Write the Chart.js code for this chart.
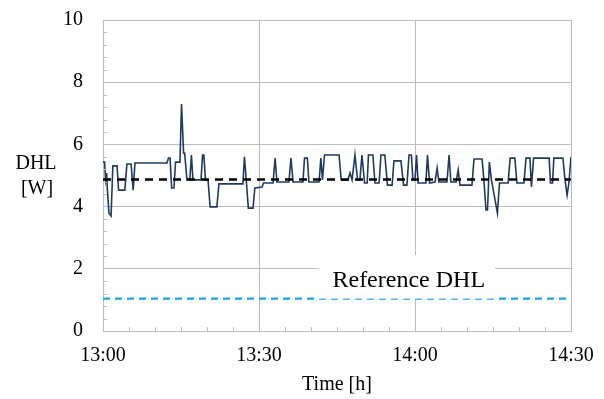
<!DOCTYPE html>
<html><head><meta charset="utf-8">
<script src="https://cdn.jsdelivr.net/npm/chart.js@4/dist/chart.umd.min.js"></script>
<style>html,body{margin:0;padding:0;background:#fff}#wrap{width:604px;height:399px}</style>
</head><body><div id="wrap"><canvas id="c" width="604" height="399"></canvas></div>
<script>
// minutes after 13:00
const times = [0,0.3,0.5,0.7,0.85,1.15,1.55,1.9,2.7,3.0,4.2,4.6,5.4,5.8,6.15,12.3,12.6,12.9,13.2,13.65,13.95,14.8,15.1,15.5,15.7,16.15,16.7,17.0,17.3,18.85,19.15,19.4,19.7,20.2,20.6,21.9,22.3,26.9,27.2,27.6,27.95,28.85,29.2,30.6,30.85,32.7,33.1,33.45,35.75,36.15,36.55,38.45,38.75,39.3,39.6,41.55,41.9,42.2,42.6,45.4,45.8,47.1,47.5,47.9,48.45,48.95,49.4,49.8,50.3,50.8,51.05,51.9,52.3,53.1,53.45,54.2,54.7,55.6,55.95,57.3,57.8,58.45,58.85,59.3,59.6,60.0,60.3,60.6,62.1,62.4,62.8,63.85,64.25,64.6,66.15,66.55,66.9,67.9,68.3,68.65,70.95,71.35,72.9,73.25,73.65,73.95,74.3,74.7,75.85,76.25,77.9,78.3,79.2,79.6,80.95,81.35,82.1,82.4,82.8,85.8,86.05,86.45,86.7,88.45,88.85,89.25,89.6,90.0];
const dhl = [5.43,5.43,4.86,5.08,4.53,3.79,3.70,5.31,5.31,4.53,4.53,5.37,5.37,4.53,5.40,5.40,5.56,5.56,4.60,4.60,5.43,5.43,7.30,5.72,5.72,4.86,4.86,5.66,4.86,4.86,5.66,5.66,4.86,4.86,3.99,3.99,4.73,4.73,5.60,4.73,3.95,3.95,4.60,4.63,4.76,4.76,5.56,4.79,4.79,5.56,4.79,4.79,5.56,5.56,4.79,4.79,5.56,4.86,5.66,5.66,4.86,4.86,5.08,4.86,5.66,4.86,4.86,5.66,4.76,4.76,5.66,5.66,4.76,4.76,5.66,5.66,4.69,4.69,5.47,5.47,4.69,4.69,5.66,5.66,4.86,4.86,5.66,4.76,4.76,5.66,4.76,4.79,5.24,4.79,4.79,5.66,4.79,4.79,5.18,4.69,4.69,5.53,5.53,4.86,3.89,3.89,5.43,4.86,3.79,4.76,4.76,5.56,5.56,4.76,4.76,5.56,5.56,4.63,5.56,5.56,4.76,4.76,5.56,5.56,4.86,4.37,4.76,5.60];
const meanDHL = 4.87;
const referenceDHL = 1.04;
const xTicks = [0,30,60,90];
const xTickLabels = ['13:00','13:30','14:00','14:30'];
const yTitle = ['DHL','[W]'];
const xTitle = 'Time [h]';
const refLabel = 'Reference DHL';

const FONT = "'Liberation Serif','Times New Roman',serif";
const GRID = '#bdbdbd';

const extras = {
  id:'extras',
  beforeDraw(chart){
    const ctx=chart.ctx; ctx.save(); ctx.fillStyle='#fff'; ctx.fillRect(0,0,chart.width,chart.height); ctx.restore();
  },
  afterDatasetsDraw(chart){
    const ctx=chart.ctx, xs=chart.scales.x, ys=chart.scales.y;
    ctx.save();
    // minor ticks
    ctx.strokeStyle=GRID; ctx.lineWidth=1;
    for(let m=5;m<90;m+=5){ if(m%30===0) continue;
      const px=Math.round(xs.getPixelForValue(m))+0.5;
      ctx.beginPath(); ctx.moveTo(px,ys.bottom); ctx.lineTo(px,ys.bottom-4); ctx.stroke(); }
    for(let i=1;i<25;i++){ const v=i*0.4; if(Math.abs(v/2-Math.round(v/2))<1e-6) continue;
      const py=Math.round(ys.getPixelForValue(v))+0.5;
      ctx.beginPath(); ctx.moveTo(xs.left,py); ctx.lineTo(xs.left+4,py); ctx.stroke(); }
    // label box
    const bx1=xs.getPixelForValue(41.4), bx2=xs.getPixelForValue(75.4);
    const by1=ys.getPixelForValue(2.44), by2=ys.getPixelForValue(referenceDHL);
    ctx.fillStyle='#fff'; ctx.fillRect(bx1,by1,bx2-bx1,by2-by1);
    ctx.fillStyle='#000'; ctx.font='24px '+FONT; ctx.textAlign='center'; ctx.textBaseline='alphabetic';
    ctx.fillText(refLabel, xs.getPixelForValue(58.8), ys.getPixelForValue(1.41));
    // y title
    ctx.font='20px '+FONT; ctx.textBaseline='middle';
    ctx.fillText(yTitle[0], 36, 164);
    ctx.fillText(yTitle[1], 37, 189);
    ctx.restore();
  }
};

new Chart(document.getElementById('c'),{
  type:'line',
  data:{datasets:[
    {label:'mean', data:[{x:0,y:meanDHL},{x:90,y:meanDHL}], borderColor:'#000', borderWidth:2.5, borderDash:[8,6], pointRadius:0, order:0},
    {label:'ref', data:[{x:0,y:referenceDHL},{x:90,y:referenceDHL}], borderColor:'#1aa3e6', borderWidth:2.2, borderDash:[7,5], pointRadius:0, order:1},
    {label:'DHL', data:times.map((t,i)=>({x:t,y:dhl[i]})), borderColor:'#1f3b63', borderWidth:1.6, pointRadius:0, tension:0, order:2}
  ]},
  options:{
    responsive:false, animation:false, devicePixelRatio:1,
    layout:{padding:{left:0,top:20,right:33,bottom:0}},
    plugins:{legend:{display:false}, tooltip:{enabled:false}},
    scales:{
      x:{type:'linear', min:0, max:90,
        afterBuildTicks(s){ s.ticks = xTicks.map(v=>({value:v})); },
        afterFit(s){ s.height=68; s.paddingLeft=0; s.paddingRight=0; },
        ticks:{padding:13, color:'#000', font:{family:FONT,size:20}, maxRotation:0,
          callback:(v)=>{const i=xTicks.indexOf(v); return i>=0?xTickLabels[i]:'';}},
        grid:{color:GRID, lineWidth:1, drawTicks:false},
        border:{color:GRID},
        title:{display:true, text:xTitle, color:'#000', font:{family:FONT,size:20}, padding:{top:0,bottom:2}}
      },
      y:{min:0, max:10,
        afterFit(s){ s.width=103; s.paddingTop=0; s.paddingBottom=0; },
        ticks:{stepSize:2, padding:20, color:'#000', font:{family:FONT,size:20}},
        grid:{color:GRID, lineWidth:1, drawTicks:false},
        border:{color:GRID}
      }
    }
  },
  plugins:[extras]
});
</script></body></html>
